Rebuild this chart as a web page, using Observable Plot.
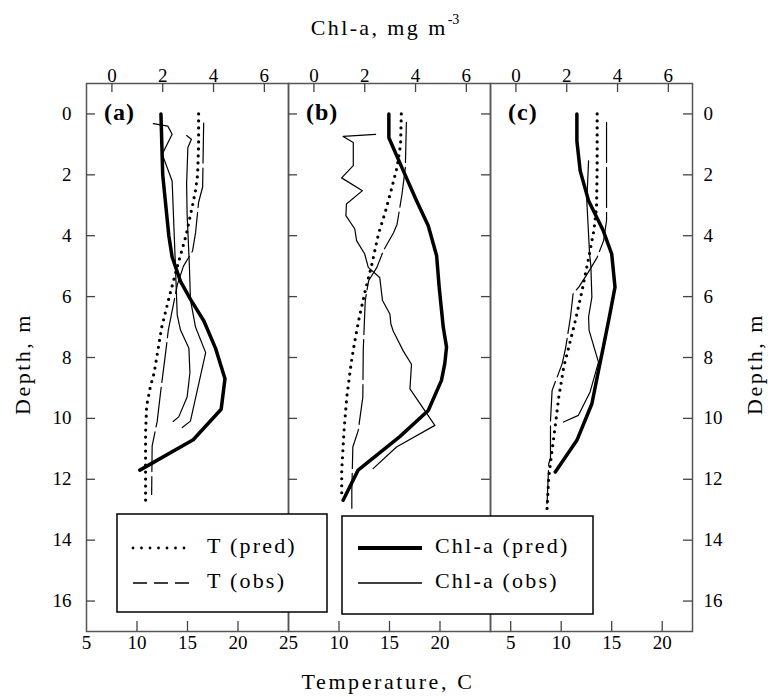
<!DOCTYPE html>
<html><head><meta charset="utf-8">
<script src="https://cdn.jsdelivr.net/npm/d3@7"></script>
<script src="https://cdn.jsdelivr.net/npm/@observablehq/plot@0.6"></script>
<style>
html,body{margin:0;padding:0;background:#fff;}
#chart{position:relative;width:775px;height:697px;overflow:hidden;}
#chart svg{position:absolute;left:0;top:0;}
</style></head><body><div id="chart"></div>
<script>
// ---------- data ----------
const panelNames = ["(a)", "(b)", "(c)"];
const depthTicks = [0, 2, 4, 6, 8, 10, 12, 14, 16];
const chlTicks = [0, 2, 4, 6];
const tempDomains = [[5, 25], [5, 25], [3, 23]];
const chlDomain = [-1, 6.95];
const tempTickLabels = [[5, 10, 15, 20, 25], [10, 15, 20], [5, 10, 15, 20]];
const tempTickMarks = [[10, 15, 20], [10, 15, 20], [5, 10, 15, 20]];

// panel (a)
const tPredA_depth = [0, 1, 2, 2.5, 3, 4, 5, 6, 7, 8, 8.5, 9, 9.6, 10.5, 11.5, 12.7];
const tPredA_temp  = [16.1, 16.1, 16.0, 15.8, 15.5, 14.85, 14.0, 13.2, 12.45, 11.95, 11.7, 11.3, 10.95, 10.85, 10.85, 10.85];
const tObsA_depth  = [0.3, 2.4, 2.9, 3.9, 4.5, 5.0, 5.6, 6.6, 7.1, 7.8, 9.1, 10.1, 10.9, 12.5];
const tObsA_temp   = [16.6, 16.5, 16.1, 15.8, 15.5, 14.6, 14.0, 13.4, 13.1, 12.85, 12.35, 12.0, 11.5, 11.45];
const cPredA_depth = [0, 2, 4, 4.7, 5.5, 6.1, 6.8, 7.7, 8.7, 9.7, 10.7, 11.7];
const cPredA_chl   = [1.93, 2.0, 2.24, 2.37, 2.7, 3.1, 3.62, 4.08, 4.45, 4.3, 3.2, 1.1];
const cObsA1_depth = [0.32, 0.4, 0.67, 1.32, 2.2, 5.0, 6.6, 7.1, 7.7, 8.5, 9.3, 9.95, 10.1];
const cObsA1_chl   = [1.63, 2.2, 2.37, 1.98, 2.37, 2.5, 2.57, 2.7, 3.03, 3.07, 2.96, 2.63, 2.41];
const cObsA2_depth = [0.71, 0.83, 1.1, 2.3, 3.3, 5.0, 6.1, 7.0, 7.84, 10.09, 10.3];
const cObsA2_chl   = [2.94, 3.13, 2.99, 2.94, 2.96, 3.05, 3.09, 3.29, 3.69, 3.09, 2.77];

// panel (b)
const tPredB_depth = [0, 1.0, 1.75, 2.4, 3.2, 3.95, 4.93, 5.8, 6.8, 7.7, 8.2, 9.3, 10.4, 11.7, 12.6];
const tPredB_temp  = [16.17, 16.1, 15.75, 15.25, 14.6, 13.9, 13.26, 12.6, 11.93, 11.44, 11.2, 10.77, 10.5, 10.27, 10.27];
const tObsB_depth  = [0.28, 1.76, 2.63, 3.62, 3.9, 4.49, 5.04, 5.48, 6.13, 7.77, 9.3, 10.4, 10.94, 12.36, 12.95];
const tObsB_temp   = [16.67, 16.57, 16.24, 15.75, 15.4, 14.4, 13.75, 12.93, 12.6, 12.4, 12.36, 11.9, 11.37, 11.27, 11.27];
const cPredB_depth = [0, 0.78, 1.87, 2.85, 3.67, 4.66, 5.69, 7.0, 7.66, 8.2, 8.75, 9.74, 10.6, 11.7, 12.69];
const cPredB_chl   = [2.95, 2.95, 3.52, 4.04, 4.5, 4.83, 4.93, 5.09, 5.22, 5.15, 5.02, 4.5, 3.38, 1.74, 1.15];
const cObsB_depth  = [0.67, 0.74, 0.94, 1.7, 2.1, 2.52, 2.96, 3.34, 3.78, 4.16, 4.6, 5.04, 5.37, 6.13, 6.57, 6.9, 7.13, 7.79, 8.22, 9.03, 10.23, 10.94, 11.65];
const cObsB_chl    = [2.43, 1.15, 1.55, 1.55, 1.09, 1.91, 1.28, 1.26, 1.61, 1.68, 2.0, 2.14, 2.59, 2.7, 2.99, 3.03, 3.12, 3.52, 3.84, 3.78, 4.76, 3.25, 2.33];

// panel (c)
const tPredC_depth = [0, 1.75, 3.07, 3.84, 4.71, 5.8, 6.79, 7.66, 8.3, 9.3, 10.17, 11.05, 11.92, 12.96];
const tPredC_temp  = [13.56, 13.56, 13.5, 13.23, 12.73, 12.07, 11.4, 10.75, 10.26, 9.76, 9.44, 9.1, 8.77, 8.6];
const tObsC_depth  = [0.28, 3.5, 4.16, 4.71, 5.26, 5.69, 5.9, 6.67, 7.7, 8.2, 9.08, 10.07, 11.3, 11.48, 12.8];
const tObsC_temp   = [14.49, 14.49, 14.2, 13.56, 12.57, 11.74, 11.18, 10.92, 10.43, 10.1, 9.1, 8.94, 8.94, 8.77, 8.6];
const cPredC_depth = [0, 0.89, 1.87, 2.85, 3.84, 4.6, 5.69, 6.57, 7.66, 8.43, 9.52, 10.72, 11.76];
const cPredC_chl   = [2.4, 2.4, 2.53, 2.86, 3.44, 3.77, 3.9, 3.7, 3.44, 3.25, 2.99, 2.4, 1.55];
const cObsC_depth  = [1.54, 2.85, 4.6, 5.0, 6.02, 6.67, 7.11, 8.15, 9.13, 9.9, 10.12];
const cObsC_chl    = [2.86, 2.79, 2.9, 2.95, 2.99, 2.86, 2.88, 3.25, 2.92, 2.46, 1.87];

// ---------- build ----------
const series = (depths, values, key = 0) => depths.map((d, i) => ({depth: d, value: values[i], key}));
const panelData = [
  {tPred: series(tPredA_depth, tPredA_temp), tObs: series(tObsA_depth, tObsA_temp),
   cPred: series(cPredA_depth, cPredA_chl),
   cObs: [...series(cObsA1_depth, cObsA1_chl, 1), ...series(cObsA2_depth, cObsA2_chl, 2)]},
  {tPred: series(tPredB_depth, tPredB_temp), tObs: series(tObsB_depth, tObsB_temp),
   cPred: series(cPredB_depth, cPredB_chl), cObs: series(cObsB_depth, cObsB_chl)},
  {tPred: series(tPredC_depth, tPredC_temp), tObs: series(tObsC_depth, tObsC_temp),
   cPred: series(cPredC_depth, cPredC_chl), cObs: series(cObsC_depth, cObsC_chl)}
];

const W = 775, H = 697, MT = 83, MB = 66, PW = 202;
const PH = H - MT - MB;
const panelLeft = [86, 288, 490];
const FONT = "Liberation Serif";
const axisColor = "#444";
const chart = document.getElementById("chart");

function layer(i, xDomain, marks) {
  return Plot.plot({
    width: W, height: H,
    marginLeft: panelLeft[i], marginRight: W - panelLeft[i] - PW,
    marginTop: MT, marginBottom: MB,
    x: {domain: xDomain, axis: null},
    y: {domain: [-1, 17], reverse: true, axis: null},
    style: {background: "none", fontFamily: FONT, fontSize: "19px", color: "black", overflow: "visible"},
    marks
  });
}

panelData.forEach((p, i) => {
  const tMarks = [
    Plot.frame({stroke: "#555", strokeWidth: 1.5}),
    Plot.ruleX(tempTickMarks[i], {x: d => d, insetTop: PH - 10, stroke: axisColor, strokeWidth: 1.3}),
    Plot.text(tempTickLabels[i], {x: d => d, text: d => String(d), frameAnchor: "bottom", dy: 17, fontSize: 19, fill: "black"}),
    Plot.line(p.tPred, {x: "value", y: "depth", stroke: "black", strokeWidth: 3.2, strokeDasharray: "0,7", strokeLinecap: "round"}),
    Plot.line(p.tObs, {x: "value", y: "depth", stroke: "black", strokeWidth: 1.2, strokeDasharray: "40,5"})
  ];
  if (i === 0 || i === 1) tMarks.push(Plot.ruleY(depthTicks, {y: d => d, insetRight: PW - 9, stroke: axisColor, strokeWidth: 1.3}));
  if (i === 1 || i === 2) tMarks.push(Plot.ruleY(depthTicks, {y: d => d, insetLeft: PW - 9, stroke: axisColor, strokeWidth: 1.3}));
  if (i === 0) tMarks.push(Plot.text(depthTicks, {y: d => d, text: d => String(d), frameAnchor: "left", dx: -15, textAnchor: "end", fontSize: 19, fill: "black"}));
  if (i === 2) tMarks.push(Plot.text(depthTicks, {y: d => d, text: d => String(d), frameAnchor: "right", dx: 11, textAnchor: "start", fontSize: 19, fill: "black"}));
  chart.appendChild(layer(i, tempDomains[i], tMarks));

  const cMarks = [
    Plot.ruleX(chlTicks, {x: d => d, insetBottom: PH - 9, stroke: axisColor, strokeWidth: 1.3}),
    Plot.text(chlTicks, {x: d => d, text: d => String(d), frameAnchor: "top", dy: -15, fontSize: 19, fill: "black"}),
    Plot.line(p.cPred, {x: "value", y: "depth", stroke: "black", strokeWidth: 3.5, strokeLinejoin: "round"}),
    Plot.line(p.cObs, {x: "value", y: "depth", z: "key", stroke: "black", strokeWidth: 1.2})
  ];
  chart.appendChild(layer(i, chlDomain, cMarks));
});

// ---------- overlay: titles, panel labels, legends ----------
const svg = d3.create("svg").attr("width", W).attr("height", H)
  .style("font-family", FONT).style("overflow", "visible");

panelNames.forEach((name, i) => {
  svg.append("text").attr("x", panelLeft[i] + 18).attr("y", 114)
    .attr("dominant-baseline", "middle").attr("font-size", 24).attr("font-weight", "bold")
    .attr("letter-spacing", 1).text(name);
});

const title = svg.append("text").attr("x", 385).attr("y", 30).attr("text-anchor", "middle")
  .attr("dominant-baseline", "middle").attr("font-size", 22).attr("letter-spacing", 2.4);
title.append("tspan").text("Chl-a, mg m");
title.append("tspan").attr("font-size", 14).attr("dy", -9).attr("letter-spacing", 0).text("-3");

svg.append("text").attr("x", 388).attr("y", 684).attr("text-anchor", "middle")
  .attr("dominant-baseline", "middle").attr("font-size", 22).attr("letter-spacing", 2.6)
  .text("Temperature, C");

[[25, 364], [757, 364]].forEach(([x, y]) => {
  svg.append("text").attr("transform", `translate(${x},${y}) rotate(-90)`)
    .attr("text-anchor", "middle").attr("dominant-baseline", "middle")
    .attr("font-size", 22).attr("letter-spacing", 2.5).text("Depth, m");
});

const legends = [
  {x: 117, y: 514, w: 210, h: 98, lx1: 133, lx2: 190, tx: 207, items: [
    {label: "T (pred)", width: 2.8, dash: "0,8.5", cap: "round"},
    {label: "T (obs)", width: 1.3, dash: "14,7", cap: "butt"}]},
  {x: 342, y: 516, w: 251, h: 98, lx1: 358, lx2: 422, tx: 435, items: [
    {label: "Chl-a (pred)", width: 4, dash: null, cap: "butt"},
    {label: "Chl-a (obs)", width: 1.3, dash: null, cap: "butt"}]}
];
const rowY = [548, 583];
legends.forEach(L => {
  svg.append("rect").attr("x", L.x).attr("y", L.y).attr("width", L.w).attr("height", L.h)
    .attr("fill", "white").attr("stroke", "black").attr("stroke-width", 1.5);
  L.items.forEach((it, k) => {
    const ln = svg.append("line").attr("x1", L.lx1).attr("x2", L.lx2).attr("y1", rowY[k]).attr("y2", rowY[k])
      .attr("stroke", "black").attr("stroke-width", it.width).attr("stroke-linecap", it.cap);
    if (it.dash) ln.attr("stroke-dasharray", it.dash);
    svg.append("text").attr("x", L.tx).attr("y", rowY[k]).attr("dominant-baseline", "middle")
      .attr("font-size", 22).attr("letter-spacing", 2.2).text(it.label);
  });
});
chart.appendChild(svg.node());
</script></body></html>
